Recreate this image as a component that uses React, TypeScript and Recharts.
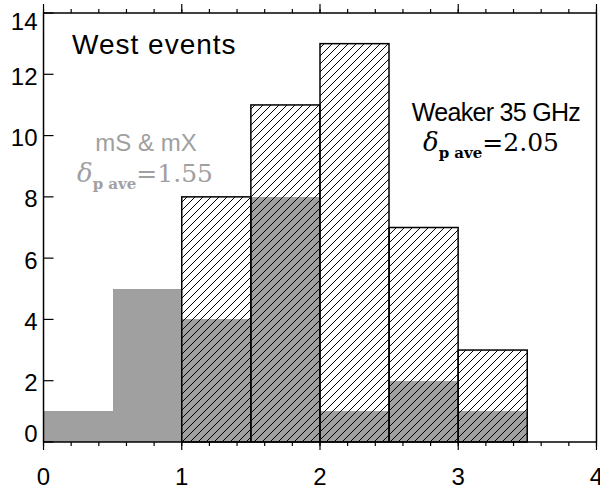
import React, { useEffect, useState } from 'react';
import { ComposedChart, Bar, XAxis, YAxis } from 'recharts';

// histogram bins of delta (width 0.5)
const bins = ['0-0.5', '0.5-1', '1-1.5', '1.5-2', '2-2.5', '2.5-3', '3-3.5', '3.5-4'];
const binCenters = [0.25, 0.75, 1.25, 1.75, 2.25, 2.75, 3.25, 3.75];
const msMxCounts = [1, 5, 4, 8, 1, 2, 1, 0];
const weakerCounts = [0, 0, 8, 11, 13, 7, 3, 0];

const xTicks = [0, 1, 2, 3, 4];
const xMinorTicks = [0, 0.2, 0.4, 0.6, 0.8, 1, 1.2, 1.4, 1.6, 1.8, 2, 2.2, 2.4, 2.6, 2.8, 3, 3.2, 3.4, 3.6, 3.8, 4];
const yTicks = [0, 2, 4, 6, 8, 10, 12, 14];
const yMinorTicks = [1, 3, 5, 7, 9, 11, 13];

const rows = bins.map((bin, i) => ({ bin, center: binCenters[i], msmx: msMxCounts[i], weaker: weakerCounts[i] }));

const SANS = '"Liberation Sans", Arial, Helvetica, sans-serif';
const SERIF = '"DejaVu Serif", serif';
const GRAY = '#a0a0a0';
const line = { stroke: '#000', strokeWidth: 1.2 };
const frame = { stroke: '#000', strokeWidth: 1.5 };
// axes with a zero size are skipped by recharts, so use a tiny one
const THIN = 0.01;

// y ticks point into the plot, the tick draws its own mark
const makeYTick = (len: number, side: 'left' | 'right', label: boolean) => (props: any) => {
  const x = Number(props.x);
  const y = Number(props.y);
  const v = props.payload.value;
  const dir = side === 'left' ? 1 : -1;
  const dy = v === 14 ? 17 : v === 0 ? 0 : 10.5;
  return (
    <g>
      <line x1={x} y1={y} x2={x + dir * len} y2={y} stroke="#000" strokeWidth={1.2} />
      {label && (
        <text x={x - 6} y={y} dy={dy} textAnchor="end" fontSize={24} fontFamily={SANS} fill="#000">
          {v}
        </text>
      )}
    </g>
  );
};
const LeftMajor = makeYTick(10, 'left', true);
const LeftMinor = makeYTick(5, 'left', false);
const RightMajor = makeYTick(9, 'right', false);
const RightMinor = makeYTick(5, 'right', false);

const XTick = (props: any) => {
  const { x, y, payload } = props;
  return (
    <text x={x} y={y} dy={35} textAnchor="middle" fontSize={24} fontFamily={SANS} fill="#000">
      {payload.value}
    </text>
  );
};

// tick={false} also drops the tick lines, so draw an empty label instead
const NoLabel = () => <g />;

// hatched bar keeps its pattern inside the chart svg
const HatchBar = (props: any) => {
  const { x, y, width, height, index } = props;
  if (!height || height <= 0) return null;
  const id = `hatch-${index}`;
  return (
    <g>
      <defs>
        <pattern id={id} patternUnits="userSpaceOnUse" width={8} height={8}>
          <path d="M-2,2 l4,-4 M0,8 l8,-8 M6,10 l4,-4" stroke="#000" strokeWidth={1} />
        </pattern>
      </defs>
      <rect x={x} y={y} width={width} height={height} fill={`url(#${id})`} stroke="#000" strokeWidth={1.5} />
    </g>
  );
};

const note: React.CSSProperties = { position: 'absolute', whiteSpace: 'nowrap', margin: 0, pointerEvents: 'none' };

export default function App() {
  // one late re-render so every axis layer is drawn before the snapshot
  const [, setPass] = useState(0);
  useEffect(() => {
    const a = setTimeout(() => setPass(1), 100);
    const b = setTimeout(() => setPass(2), 300);
    return () => {
      clearTimeout(a);
      clearTimeout(b);
    };
  }, []);

  return (
    <div style={{ position: 'absolute', left: 0, top: 0, width: 600, height: 488 }}>
      <ComposedChart
        width={600}
        height={488}
        data={rows}
        margin={{ top: 13, right: 3.5, bottom: 46, left: 43.5 }}
        barCategoryGap={0}
        barGap={0}
      >
        <XAxis xAxisId="c1" dataKey="bin" type="category" hide />
        <XAxis xAxisId="c2" dataKey="bin" type="category" hide />
        <XAxis xAxisId="bx" dataKey="center" type="number" domain={[0, 4]} allowDataOverflow ticks={xTicks} interval={0}
          height={THIN} tickSize={8} tickMargin={0} tick={<XTick />} tickLine={line} axisLine={frame} />
        <XAxis xAxisId="bxm" dataKey="center" type="number" domain={[0, 4]} allowDataOverflow ticks={xMinorTicks} interval={0}
          height={THIN} tickSize={4} tick={<NoLabel />} tickLine={line} axisLine={false} />
        <XAxis xAxisId="tx" dataKey="center" orientation="top" type="number" domain={[0, 4]} allowDataOverflow ticks={xTicks}
          interval={0} height={THIN} tickSize={9} tick={<NoLabel />} tickLine={line} axisLine={frame} />
        <XAxis xAxisId="txm" dataKey="center" orientation="top" type="number" domain={[0, 4]} allowDataOverflow ticks={xMinorTicks}
          interval={0} height={THIN} tickSize={4} tick={<NoLabel />} tickLine={line} axisLine={false} />

        <YAxis yAxisId="ly" type="number" domain={[0, 14]} ticks={yTicks} interval={0} width={THIN}
          tickLine={false} tickSize={0} tickMargin={0} tick={<LeftMajor />} axisLine={frame} />
        <YAxis yAxisId="lym" type="number" domain={[0, 14]} ticks={yMinorTicks} interval={0} width={THIN}
          tickLine={false} tickSize={0} tickMargin={0} tick={<LeftMinor />} axisLine={false} />
        <YAxis yAxisId="ry" orientation="right" type="number" domain={[0, 14]} ticks={yTicks} interval={0} width={THIN}
          tickLine={false} tickSize={0} tickMargin={0} tick={<RightMajor />} axisLine={frame} />
        <YAxis yAxisId="rym" orientation="right" type="number" domain={[0, 14]} ticks={yMinorTicks} interval={0} width={THIN}
          tickLine={false} tickSize={0} tickMargin={0} tick={<RightMinor />} axisLine={false} />

        <Bar xAxisId="c1" yAxisId="ly" dataKey="msmx" fill={GRAY} shapeRendering="crispEdges" isAnimationActive={false} />
        <Bar xAxisId="c2" yAxisId="ly" dataKey="weaker" shape={<HatchBar />} isAnimationActive={false} />
      </ComposedChart>

      <div style={{ ...note, left: 72, top: 31, fontFamily: SANS, fontSize: 28, lineHeight: '28px', letterSpacing: 1, color: '#000' }}>
        West events
      </div>
      <div style={{ ...note, left: 46, width: 200, top: 131, textAlign: 'center', fontFamily: SANS, fontSize: 24, lineHeight: '24px', color: GRAY }}>
        mS &amp; mX
      </div>
      <div style={{ ...note, left: -5, width: 300, top: 158, textAlign: 'center', fontFamily: SERIF, fontSize: 25, lineHeight: '30px', color: GRAY }}>
        <span style={{ fontStyle: 'italic', fontSize: 26 }}>δ</span>
        <span style={{ fontWeight: 'bold', fontSize: 15, position: 'relative', top: 7 }}>p ave</span>
        <span>=1.55</span>
      </div>
      <div style={{ ...note, left: 346, width: 300, top: 100, textAlign: 'center', fontFamily: SANS, fontSize: 25, lineHeight: '25px', letterSpacing: -0.7, color: '#000' }}>
        Weaker 35 GHz
      </div>
      <div style={{ ...note, left: 341, width: 300, top: 127, textAlign: 'center', fontFamily: SERIF, fontSize: 25, lineHeight: '30px', color: '#000' }}>
        <span style={{ fontStyle: 'italic', fontSize: 26 }}>δ</span>
        <span style={{ fontWeight: 'bold', fontSize: 15, position: 'relative', top: 7 }}>p ave</span>
        <span>=2.05</span>
      </div>
    </div>
  );
}
